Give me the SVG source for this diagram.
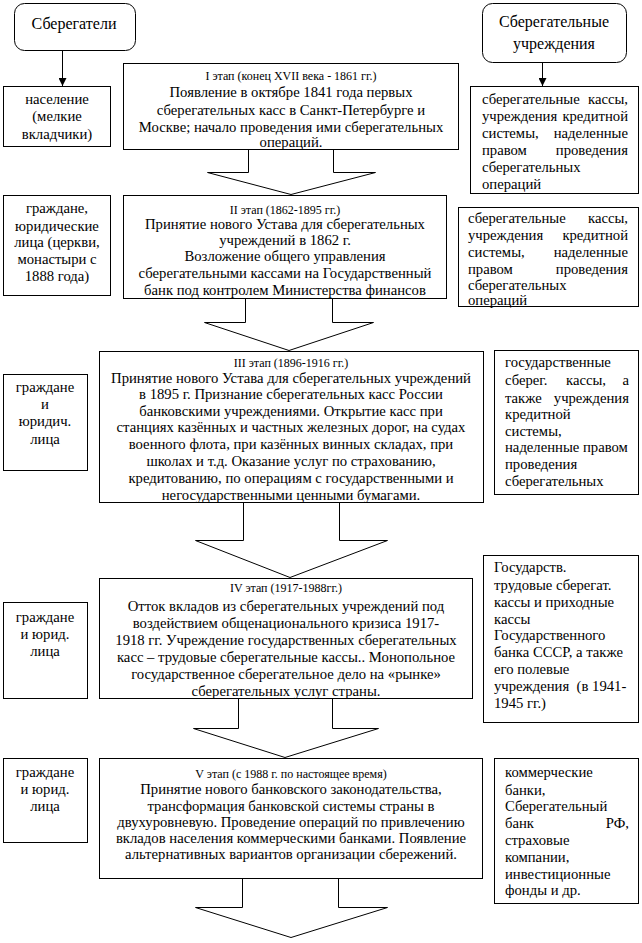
<svg xmlns="http://www.w3.org/2000/svg" width="642" height="943" viewBox="0 0 642 943">
<style>
  .box { fill: #ffffff; stroke: #000000; stroke-width: 1; }
  .conn { fill: #ffffff; stroke: #000000; stroke-width: 1; }
  .ln { fill: none; stroke: #000000; stroke-width: 1; }
  text { font-family: "Liberation Serif", "DejaVu Serif", "Times New Roman", serif; fill: #000000; }
  .t { font-size: 14.7px; }
  .h { font-size: 12px; }
  .big { font-size: 16px; }
  .c { text-anchor: middle; }
  .e { text-anchor: end; }
</style>
<defs>
  <marker id="arr" viewBox="0 0 8 8" refX="8" refY="4" markerWidth="8" markerHeight="8" markerUnits="userSpaceOnUse" orient="auto">
    <path d="M0,0 L8,4 L0,8 z" fill="#000000"/>
  </marker>
</defs>
<rect x="0" y="0" width="642" height="943" fill="#ffffff"/>

<g id="connectors">
  <line class="ln" x1="62.5" y1="50" x2="62.5" y2="86" marker-end="url(#arr)"/>
  <line class="ln" x1="542.5" y1="63" x2="542.5" y2="86" marker-end="url(#arr)"/>
  <polyline class="conn" points="248.5,149.5 248.5,172.5 207.5,172.5 291,194.5 375.5,172.5 333.5,172.5 333.5,149.5"/>
  <polyline class="conn" points="245.5,298.5 245.5,322.5 204.5,322.5 289,350.5 373.5,322.5 332.5,322.5 332.5,298.5"/>
  <polyline class="conn" points="243.5,502.5 243.5,540.5 195.5,540.5 290,577.5 387.5,540.5 339.5,540.5 339.5,502.5"/>
  <polyline class="conn" points="238.5,698.5 238.5,728.5 193.5,728.5 285,757.5 378.5,728.5 332.5,728.5 332.5,698.5"/>
  <polyline class="conn" points="242.5,878.5 242.5,907.5 195.5,907.5 291,937.5 387.5,907.5 338.5,907.5 338.5,878.5"/>
</g>

<g id="savers">
  <rect class="box" x="14.5" y="3.5" width="121" height="47" rx="10"/>
  <text class="big c" x="74" y="29">Сберегатели</text>
</g>

<g id="institutions">
  <rect class="box" x="482.5" y="3.5" width="144" height="59" rx="10"/>
  <text class="big c" x="554" y="27">Сберегательные</text>
  <text class="big c" x="554" y="49">учреждения</text>
</g>

<g id="savers-1">
  <rect class="box" x="3.5" y="86.5" width="107" height="60"/>
  <text class="t c" x="57" y="104">население</text>
  <text class="t c" x="57" y="121">(мелкие</text>
  <text class="t c" x="57" y="139">вкладчики)</text>
</g>

<g id="stage-1">
  <rect class="box" x="123.5" y="63.5" width="335" height="86"/>
  <text class="h c" x="291" y="80">I этап (конец XVII века - 1861 гг.)</text>
  <text class="t c" x="291" y="97">Появление в октябре 1841 года первых</text>
  <text class="t c" x="291" y="115">сберегательных касс в Санкт-Петербурге и</text>
  <text class="t c" x="291" y="132">Москве; начало проведения ими сберегательных</text>
  <text class="t c" x="291" y="147">операций.</text>
</g>

<g id="institutions-1">
  <rect class="box" x="470.5" y="86.5" width="168" height="107"/>
  <text class="t" x="482" y="104">сберегательные</text><text class="t e" x="628" y="104">кассы,</text>
  <text class="t" x="482" y="121">учреждения</text><text class="t e" x="628" y="121">кредитной</text>
  <text class="t" x="482" y="138">системы,</text><text class="t e" x="628" y="138">наделенные</text>
  <text class="t" x="482" y="155">правом</text><text class="t e" x="628" y="155">проведения</text>
  <text class="t" x="482" y="172">сберегательных</text>
  <text class="t" x="482" y="189">операций</text>
</g>

<g id="savers-2">
  <rect class="box" x="3.5" y="195.5" width="107" height="100"/>
  <text class="t c" x="57" y="213">граждане,</text>
  <text class="t c" x="57" y="231">юридические</text>
  <text class="t c" x="57" y="247">лица (церкви,</text>
  <text class="t c" x="57" y="264">монастыри с</text>
  <text class="t c" x="57" y="281">1888 года)</text>
</g>

<g id="stage-2">
  <rect class="box" x="123.5" y="195.5" width="323" height="103"/>
  <text class="h c" x="285" y="214">II этап (1862-1895 гг.)</text>
  <text class="t c" x="285" y="229">Принятие нового Устава для сберегательных</text>
  <text class="t c" x="285" y="245">учреждений в 1862 г.</text>
  <text class="t c" x="285" y="261">Возложение общего управления</text>
  <text class="t c" x="285" y="278">сберегательными кассами на Государственный</text>
  <text class="t c" x="285" y="295">банк под контролем Министерства финансов</text>
</g>

<g id="institutions-2">
  <rect class="box" x="458.5" y="207.5" width="180" height="99"/>
  <text class="t" x="468" y="223">сберегательные</text><text class="t e" x="628" y="223">кассы,</text>
  <text class="t" x="468" y="240">учреждения</text><text class="t e" x="628" y="240">кредитной</text>
  <text class="t" x="468" y="257">системы,</text><text class="t e" x="628" y="257">наделенные</text>
  <text class="t" x="468" y="274">правом</text><text class="t e" x="628" y="274">проведения</text>
  <text class="t" x="468" y="290">сберегательных</text>
  <text class="t" x="468" y="305">операций</text>
</g>

<g id="savers-3">
  <rect class="box" x="3.5" y="374.5" width="84" height="96"/>
  <text class="t c" x="45" y="392">граждане</text>
  <text class="t c" x="45" y="409">и</text>
  <text class="t c" x="45" y="426">юридич.</text>
  <text class="t c" x="45" y="444">лица</text>
</g>

<g id="stage-3">
  <rect class="box" x="99.5" y="351.5" width="384" height="151"/>
  <text class="h c" x="291" y="367">III этап (1896-1916 гг.)</text>
  <text class="t c" x="291" y="383">Принятие нового Устава для сберегательных учреждений</text>
  <text class="t c" x="291" y="399">в 1895 г. Признание сберегательных касс России</text>
  <text class="t c" x="291" y="416">банковскими учреждениями. Открытие касс при</text>
  <text class="t c" x="291" y="432">станциях казённых и частных железных дорог, на судах</text>
  <text class="t c" x="291" y="449">военного флота, при казённых винных складах, при</text>
  <text class="t c" x="291" y="466">школах и т.д. Оказание услуг по страхованию,</text>
  <text class="t c" x="291" y="483">кредитованию, по операциям с государственными и</text>
  <text class="t c" x="291" y="500">негосударственными ценными бумагами.</text>
</g>

<g id="institutions-3">
  <rect class="box" x="494.5" y="350.5" width="144" height="144"/>
  <text class="t" x="505" y="367">государственные</text>
  <text class="t" x="505" y="385">сберег.</text><text class="t c" x="586" y="385">кассы,</text><text class="t e" x="629" y="385">а</text>
  <text class="t" x="505" y="403">также</text><text class="t e" x="629" y="403">учреждения</text>
  <text class="t" x="505" y="419">кредитной</text>
  <text class="t" x="505" y="436">системы,</text>
  <text class="t" x="505" y="452">наделенные правом</text>
  <text class="t" x="505" y="469">проведения</text>
  <text class="t" x="505" y="486">сберегательных</text>
</g>

<g id="savers-4">
  <rect class="box" x="3.5" y="602.5" width="84" height="96"/>
  <text class="t c" x="45" y="622">граждане</text>
  <text class="t c" x="45" y="639">и юрид.</text>
  <text class="t c" x="45" y="656">лица</text>
</g>

<g id="stage-4">
  <rect class="box" x="99.5" y="578.5" width="373" height="120"/>
  <text class="h c" x="286" y="592">IV этап (1917-1988гг.)</text>
  <text class="t c" x="286" y="611">Отток вкладов из сберегательных учреждений под</text>
  <text class="t c" x="286" y="628">воздействием общенационального кризиса 1917-</text>
  <text class="t c" x="286" y="645">1918 гг. Учреждение государственных сберегательных</text>
  <text class="t c" x="286" y="662">касс – трудовые сберегательные кассы.. Монопольное</text>
  <text class="t c" x="286" y="679">государственное сберегательное дело на «рынке»</text>
  <text class="t c" x="286" y="696">сберегательных услуг страны.</text>
</g>

<g id="institutions-4">
  <rect class="box" x="483.5" y="555.5" width="155" height="167"/>
  <text class="t" x="494" y="572">Государств.</text>
  <text class="t" x="494" y="590">трудовые сберегат.</text>
  <text class="t" x="494" y="607">кассы и приходные</text>
  <text class="t" x="494" y="624">кассы</text>
  <text class="t" x="494" y="640">Государственного</text>
  <text class="t" x="494" y="657">банка СССР, а также</text>
  <text class="t" x="494" y="674">его полевые</text>
  <text class="t" x="494" y="691" xml:space="preserve">учреждения  (в 1941-</text>
  <text class="t" x="494" y="708">1945 гг.)</text>
</g>

<g id="savers-5">
  <rect class="box" x="3.5" y="758.5" width="84" height="84"/>
  <text class="t c" x="45" y="777">граждане</text>
  <text class="t c" x="45" y="794">и юрид.</text>
  <text class="t c" x="45" y="811">лица</text>
</g>

<g id="stage-5">
  <rect class="box" x="99.5" y="758.5" width="383" height="120"/>
  <text class="h c" x="291" y="778">V этап (с 1988 г. по настоящее время)</text>
  <text class="t c" x="291" y="794">Принятие нового банковского законодательства,</text>
  <text class="t c" x="291" y="811">трансформация банковской системы страны в</text>
  <text class="t c" x="291" y="827">двухуровневую. Проведение операций по привлечению</text>
  <text class="t c" x="291" y="843">вкладов населения коммерческими банками. Появление</text>
  <text class="t c" x="291" y="859">альтернативных вариантов организации сбережений.</text>
</g>

<g id="institutions-5">
  <rect class="box" x="494.5" y="758.5" width="144" height="145"/>
  <text class="t" x="505" y="777">коммерческие</text>
  <text class="t" x="505" y="795">банки,</text>
  <text class="t" x="505" y="811">Сберегательный</text>
  <text class="t" x="505" y="828">банк</text><text class="t e" x="629" y="828">РФ,</text>
  <text class="t" x="505" y="845">страховые</text>
  <text class="t" x="505" y="862">компании,</text>
  <text class="t" x="505" y="879">инвестиционные</text>
  <text class="t" x="505" y="895">фонды и др.</text>
</g>
</svg>
